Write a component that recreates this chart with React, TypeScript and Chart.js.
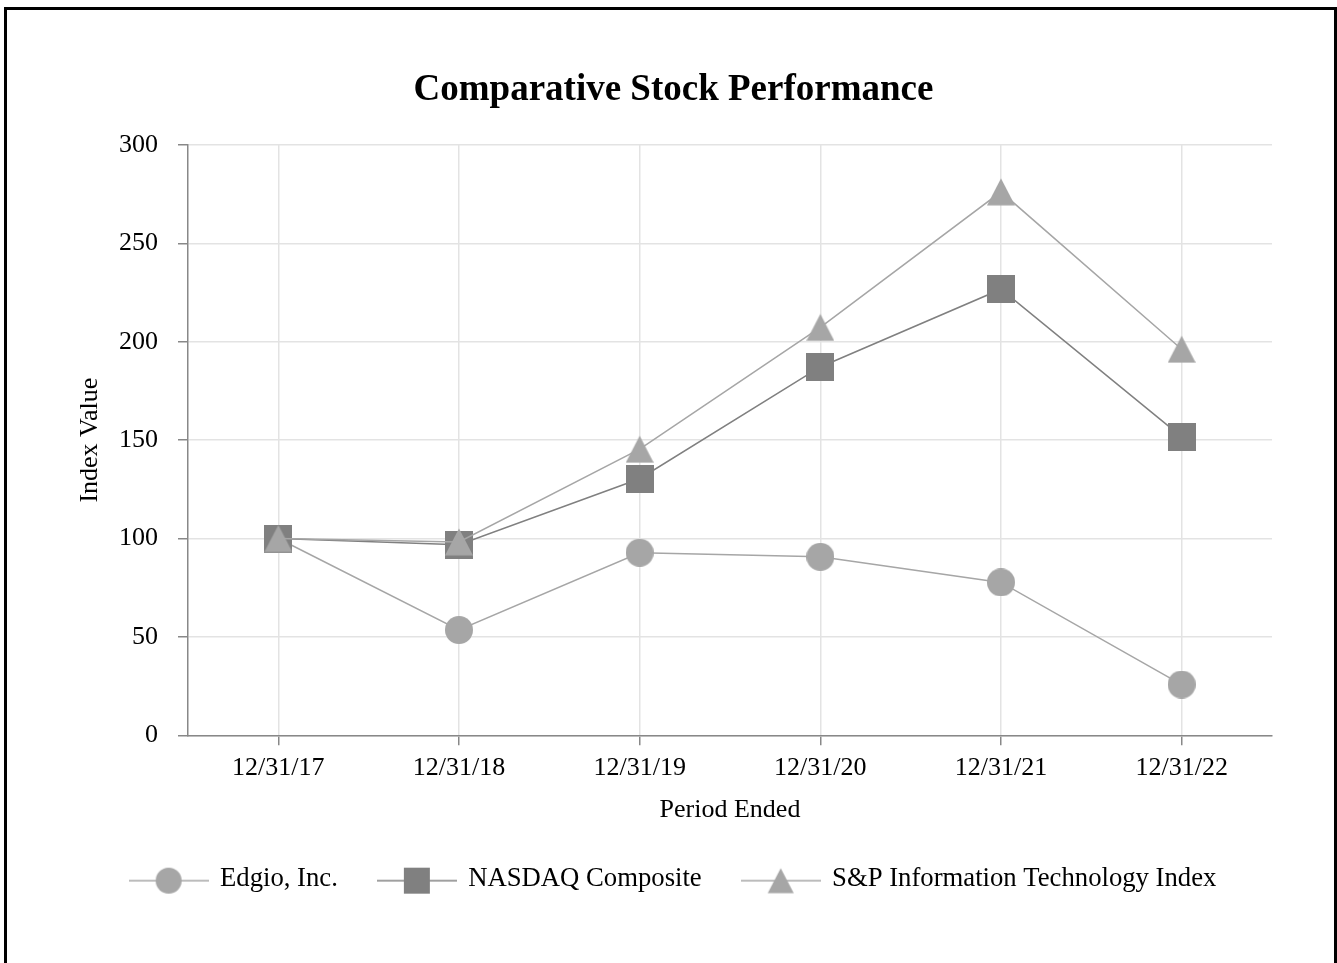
import React, { useEffect, useRef } from 'react';
import { Chart, registerables } from 'chart.js';

Chart.register(...registerables);

const categories = ['12/31/17', '12/31/18', '12/31/19', '12/31/20', '12/31/21', '12/31/22'];
const edgioValues = [100, 53.5, 92.8, 90.7, 77.7, 25.8];
const nasdaqValues = [100, 96.9, 130.4, 187.2, 226.7, 151.7];
const spItValues = [100, 98.3, 145.4, 207.3, 276.2, 196.2];
const yTicks = [0, 50, 100, 150, 200, 250, 300];
const seriesNames = ['Edgio, Inc.', 'NASDAQ Composite', 'S&P Information Technology Index'];

const FONT = '"Liberation Serif", "Times New Roman", Times, serif';
const LIGHT = '#a6a6a6';
const DARK = '#808080';
const GRID = '#e3e3e3';
const AXIS = '#888888';

type Kind = 'circle' | 'square' | 'triangle';

function drawMarker(ctx: CanvasRenderingContext2D, kind: Kind, cx: number, cy: number, size: number, color: string) {
  const h = size / 2;
  ctx.fillStyle = color;
  ctx.beginPath();
  if (kind === 'circle') {
    ctx.arc(cx, cy, h, 0, Math.PI * 2);
  } else if (kind === 'square') {
    ctx.rect(cx - h, cy - h, size, size);
  } else {
    ctx.moveTo(cx, cy - h * 0.96);
    ctx.lineTo(cx + h, cy + h * 0.96);
    ctx.lineTo(cx - h, cy + h * 0.96);
    ctx.closePath();
  }
  ctx.fill();
}

function pointImage(kind: Kind, color: string, size: number) {
  const c = document.createElement('canvas');
  c.width = size;
  c.height = size;
  const ctx = c.getContext('2d')!;
  drawMarker(ctx, kind, size / 2, size / 2, size, color);
  return c;
}

function legendImage(kind: Kind, color: string, lineColor: string) {
  const c = document.createElement('canvas');
  c.width = 80;
  c.height = 40;
  const ctx = c.getContext('2d')!;
  ctx.strokeStyle = lineColor;
  ctx.lineWidth = 1.5;
  ctx.beginPath();
  ctx.moveTo(0, 22);
  ctx.lineTo(80, 22);
  ctx.stroke();
  drawMarker(ctx, kind, 40, 22, 26, color);
  return c;
}

export default function App() {
  const canvasRef = useRef<HTMLCanvasElement | null>(null);

  useEffect(() => {
    const canvas = canvasRef.current;
    if (!canvas) return;

    const ptImgs = [
      pointImage('circle', LIGHT, 28),
      pointImage('square', DARK, 28),
      pointImage('triangle', LIGHT, 28),
    ];
    const lgImgs = [
      legendImage('circle', LIGHT, LIGHT),
      legendImage('square', DARK, DARK),
      legendImage('triangle', LIGHT, LIGHT),
    ];
    const seriesData = [edgioValues, nasdaqValues, spItValues];
    const lineColors = [LIGHT, DARK, LIGHT];
    const orders = [2, 1, 0];

    const tickFont = { family: FONT, size: 26 };

    const chart = new Chart(canvas, {
      type: 'line',
      data: {
        labels: categories,
        datasets: seriesNames.map((name, i) => ({
          label: name,
          data: seriesData[i],
          borderColor: lineColors[i],
          backgroundColor: lineColors[i],
          borderWidth: 1.5,
          pointStyle: ptImgs[i] as any,
          pointRadius: 14,
          pointHoverRadius: 14,
          tension: 0,
          fill: false,
          order: orders[i],
          yAxisID: 'y',
        })),
      },
      options: {
        responsive: false,
        animation: false,
        events: [],
        layout: { padding: { left: 10, right: 0, top: 0, bottom: 61 } },
        scales: {
          x: {
            type: 'category',
            offset: true,
            ticks: { padding: 7.4, font: tickFont, color: '#000', maxRotation: 0, autoSkip: false },
            grid: { color: GRID, lineWidth: 1.5, tickLength: 10, tickColor: AXIS, tickWidth: 1.5, offset: false },
            border: { color: AXIS, width: 1.5 },
            title: {
              display: true,
              text: 'Period Ended',
              font: tickFont,
              color: '#000',
              padding: { top: 2.8, bottom: -1 },
            },
          },
          y: {
            type: 'linear',
            position: 'left',
            min: 0,
            max: 300,
            afterBuildTicks: (s: any) => {
              s.ticks = yTicks.map((v) => ({ value: v }));
            },
            ticks: { padding: 20, font: tickFont, color: '#000' },
            grid: { color: GRID, lineWidth: 1.5, tickLength: 10, tickColor: AXIS, tickWidth: 1.5 },
            border: { color: AXIS, width: 1.5 },
            title: {
              display: true,
              text: 'Index Value',
              font: tickFont,
              color: '#000',
              padding: { top: 64.4, bottom: 0 },
            },
            afterFit: (s: any) => {
              s.width = 178;
            },
          },
          y2: {
            type: 'linear',
            position: 'right',
            display: true,
            grid: { display: false, drawTicks: false },
            border: { display: false },
            ticks: { display: false },
            afterFit: (s: any) => {
              s.width = 65;
            },
          },
        },
        plugins: {
          title: {
            display: true,
            text: 'Comparative Stock Performance',
            font: { family: FONT, size: 37, weight: 'bold' },
            color: '#000',
            padding: { top: 67.8, bottom: 32.8 },
          },
          legend: {
            display: true,
            position: 'bottom',
            labels: {
              usePointStyle: true,
              pointStyleWidth: 76,
              padding: 41,
              font: { family: FONT, size: 26.7 },
              color: '#000',
              generateLabels: (ch: any) =>
                ch.data.datasets.map((ds: any, i: number) => ({
                  text: ds.label,
                  pointStyle: lgImgs[i],
                  fillStyle: 'rgba(0,0,0,0)',
                  strokeStyle: 'rgba(0,0,0,0)',
                  lineWidth: 0,
                  hidden: false,
                  datasetIndex: i,
                  fontColor: '#000',
                })),
            },
          },
          tooltip: { enabled: false },
        },
      } as any,
    });

    return () => {
      chart.destroy();
    };
  }, []);

  return (
    <div
      style={{
        position: 'fixed',
        left: 0,
        top: 0,
        width: 1337,
        height: 963,
        overflow: 'hidden',
        background: '#fff',
      }}
    >
      <div
        style={{
          position: 'absolute',
          left: 4,
          top: 7,
          width: 1333,
          height: 1000,
          boxSizing: 'border-box',
          border: '3px solid #000',
        }}
      />
      <canvas
        ref={canvasRef}
        width={1337}
        height={963}
        style={{ position: 'absolute', left: 0, top: 0, width: 1337, height: 963 }}
      />
    </div>
  );
}
